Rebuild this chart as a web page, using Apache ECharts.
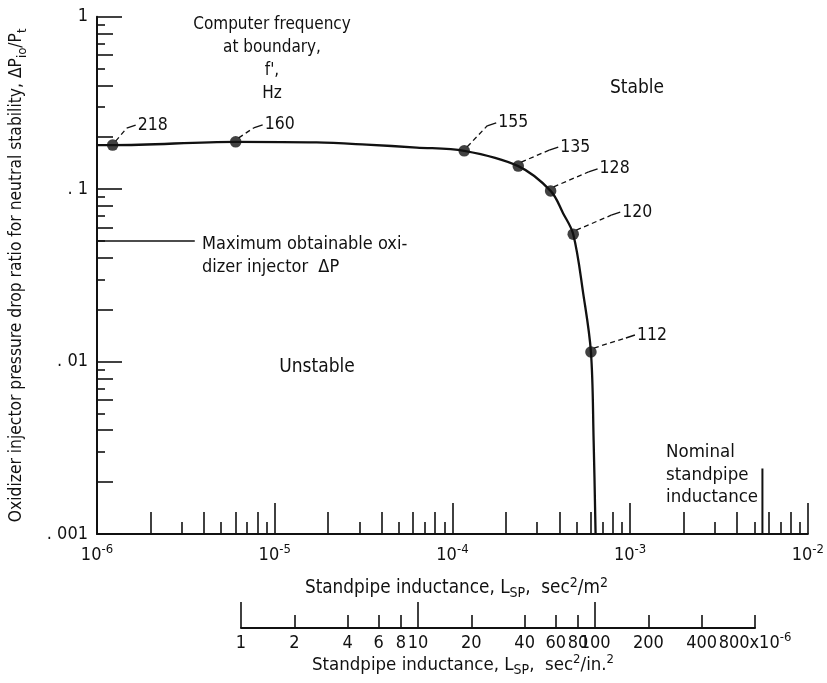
<!DOCTYPE html>
<html>
<head>
<meta charset="utf-8">
<title>Neutral stability boundary</title>
<script src="https://cdn.jsdelivr.net/npm/echarts@6/dist/echarts.min.js"></script>
<style>
  html, body { margin: 0; padding: 0; background: #fff; }
  #chart { width: 827px; height: 683px; }
</style>
</head>
<body>
<div id="chart"></div>
<script>
// Computed neutral-stability points: standpipe inductance (sec^2/m^2),
// injector pressure-drop ratio, and boundary frequency f' (Hz)
const inductance = [1.225e-6, 6.03e-6, 1.165e-4, 2.346e-4, 3.568e-4, 4.783e-4, 6.016e-4];
const pressureRatio = [0.180, 0.188, 0.1668, 0.136, 0.0977, 0.0548, 0.01136];
const frequencyHz = [218, 160, 155, 135, 128, 120, 112];

// Faired boundary curve separating stable and unstable regions
const curveInductance = [1e-6, 1.225e-6, 6.03e-6, 1.72e-5, 3.29e-5, 6.29e-5, 1.165e-4, 2.346e-4, 3.568e-4, 4.2e-4, 4.783e-4, 5.445e-4, 6.016e-4, 6.23e-4, 6.39e-4];
const curveRatio = [0.180, 0.180, 0.188, 0.1866, 0.1812, 0.1743, 0.1668, 0.136, 0.0977, 0.0723, 0.0548, 0.0248, 0.01136, 0.00349, 0.001];

// Maximum obtainable oxidizer injector pressure drop
const maxDeltaPRatio = 0.05;
const maxDeltaPSpan = [1e-6, 3.55e-6];

// Nominal standpipe inductance marker
const nominalInductance = 5.55e-3;
const nominalSpan = [0.001, 0.0024];

// Tick positions
const xDecades = [1e-6, 1e-5, 1e-4, 1e-3, 1e-2];
const yDecades = [0.001, 0.01, 0.1, 1];
const evenMultipliers = [2, 4, 6, 8];
const oddMultipliers = [3, 5, 7, 9];
const inchMajor = [1, 10, 100];
const inchLabels = [1, 2, 4, 6, 8, 10, 20, 40, 60, 80, 100, 200, 400, 800];
const inchMinor = [2, 4, 6, 8, 20, 40, 60, 80, 200, 400, 800];

function withMultipliers(decades, mults) {
  const out = [];
  decades.slice(0, -1).forEach(d => mults.forEach(m => out.push(+(m * d).toPrecision(6))));
  return out;
}
const xEven = withMultipliers(xDecades, evenMultipliers);
const xOdd = withMultipliers(xDecades, oddMultipliers);
const yEven = withMultipliers(yDecades, evenMultipliers);
const yOdd = withMultipliers(yDecades, oddMultipliers);
const inchScale = 1e-6;

const FONT = "'Liberation Sans Narrow','DejaVu Sans Condensed','Liberation Sans',sans-serif";
const INK = '#111';
const makeRich = size => ({
  b: { fontFamily: FONT, fontSize: size, color: INK, lineHeight: 24 },
  sup: { fontFamily: FONT, fontSize: Math.round(size * 0.72), color: INK, lineHeight: 12, verticalAlign: 'top' },
  sub: { fontFamily: FONT, fontSize: Math.round(size * 0.76), color: INK, lineHeight: 12, verticalAlign: 'bottom' }
});

// Pixel offsets from each point to its frequency label
const labelOffsets = [[25, -20], [29, -17], [34, -28], [42, -19], [49, -22], [49, -22], [46, -17]];

function tickAxis(gridIndex, min, max, values, len, position, extra) {
  return Object.assign({
    type: 'log', logBase: 10, gridIndex, min, max, position, offset: 0,
    axisLine: { show: false },
    axisTick: { show: true, inside: true, length: len, customValues: values, lineStyle: { color: INK, width: 1.6 } },
    axisLabel: { show: false },
    splitLine: { show: false }
  }, extra || {});
}

const chart = echarts.init(document.getElementById('chart'), null, { renderer: 'canvas' });

const option = {
  backgroundColor: '#fff',
  animation: false,
  grid: [
    { left: 97, right: 19, top: 16.7, bottom: 149 },
    { left: 241, right: 72, top: 600, height: 28 }
  ],
  xAxis: [
    tickAxis(0, 1e-6, 1e-2, xDecades, 31, 'bottom', {
      axisLine: { show: true, lineStyle: { color: INK, width: 2 } },
      axisLabel: {
        show: true, customValues: xDecades, margin: 9, rich: makeRich(18),
        formatter: v => '{b|10}{sup|' + Math.round(Math.log10(v)) + '}'
      },
      name: '{b|Standpipe inductance, L}{sub|SP}{b|,  sec}{sup|2}{b|/m}{sup|2}',
      nameLocation: 'middle', nameGap: 42,
      nameTextStyle: { rich: makeRich(18.8), padding: [0, 0, 0, 8] }
    }),
    tickAxis(0, 1e-6, 1e-2, xEven, 22, 'bottom'),
    tickAxis(0, 1e-6, 1e-2, xOdd, 12, 'bottom'),
    tickAxis(1, inchLabels[0] * inchScale, inchLabels[inchLabels.length - 1] * inchScale,
      inchMajor.map(v => v * inchScale), 26, 'bottom', {
      axisLine: { show: true, lineStyle: { color: INK, width: 2 } },
      axisLabel: {
        show: true, customValues: inchLabels.map(v => +(v * inchScale).toPrecision(6)), margin: 3,
        rich: makeRich(18),
        formatter: v => {
          const n = Math.round(v / inchScale);
          return n === 800 ? '{b|800x10}{sup|-6}' : '{b|' + n + '}';
        }
      },
      name: '{b|Standpipe inductance, L}{sub|SP}{b|,  sec}{sup|2}{b|/in.}{sup|2}',
      nameLocation: 'middle', nameGap: 24,
      nameTextStyle: { rich: makeRich(18.5), padding: [0, 70, 0, 0] }
    }),
    tickAxis(1, inchLabels[0] * inchScale, inchLabels[inchLabels.length - 1] * inchScale,
      inchMinor.map(v => +(v * inchScale).toPrecision(6)), 13, 'bottom')
  ],
  yAxis: [
    tickAxis(0, 0.001, 1, yDecades, 25, 'left', {
      axisLine: { show: true, lineStyle: { color: INK, width: 2 } },
      axisLabel: {
        show: true, customValues: yDecades, margin: 9,
        fontFamily: FONT, fontSize: 18, color: INK,
        formatter: v => v >= 1 ? '1' : '. ' + v.toFixed(Math.round(-Math.log10(v))).split('.')[1]
      },
      name: '{b|Oxidizer injector pressure drop ratio for neutral stability, \u0394P}{sub|io}{b|/P}{sub|t}',
      nameLocation: 'middle', nameRotate: 90, nameGap: 68,
      nameTextStyle: { rich: makeRich(17.3), padding: [0, 0, 0, 0] }
    }),
    tickAxis(0, 0.001, 1, yEven, 16, 'left'),
    tickAxis(0, 0.001, 1, yOdd, 8, 'left'),
    { type: 'value', gridIndex: 1, show: false }
  ],
  series: [
    {
      type: 'line', name: 'boundary', xAxisIndex: 0, yAxisIndex: 0,
      data: curveInductance.map((x, i) => [x, curveRatio[i]]),
      smooth: 0.35, symbol: 'none',
      lineStyle: { color: INK, width: 2.3 }, z: 3
    },
    {
      type: 'line', name: 'max ΔP', xAxisIndex: 0, yAxisIndex: 0,
      data: maxDeltaPSpan.map(x => [x, maxDeltaPRatio]),
      symbol: 'none', lineStyle: { color: INK, width: 1.5 }
    },
    {
      type: 'line', name: 'nominal', xAxisIndex: 0, yAxisIndex: 0,
      data: nominalSpan.map(y => [nominalInductance, y]),
      symbol: 'none', lineStyle: { color: INK, width: 2 }
    },
    {
      type: 'scatter', name: 'points', xAxisIndex: 0, yAxisIndex: 0,
      data: inductance.map((x, i) => [x, pressureRatio[i]]),
      symbol: 'circle', symbolSize: 11.5, itemStyle: { color: INK }, z: 4
    },
    {
      type: 'custom', name: 'frequency labels', xAxisIndex: 0, yAxisIndex: 0,
      data: inductance.map((x, i) => [x, pressureRatio[i], frequencyHz[i]]),
      renderItem(params, api) {
        const i = params.dataIndex;
        const p = api.coord([api.value(0), api.value(1)]);
        const tx = p[0] + labelOffsets[i][0];
        const ty = p[1] + labelOffsets[i][1];
        const bx = tx - 11, by = ty + 3;
        return {
          type: 'group',
          children: [
            { type: 'polyline', shape: { points: [[p[0] + 3, p[1] - 4], [bx, by]] },
              style: { stroke: INK, lineWidth: 1.3, lineDash: [5, 3.5], fill: null } },
            { type: 'line', shape: { x1: bx, y1: by, x2: tx - 2, y2: ty },
              style: { stroke: INK, lineWidth: 1.4 } },
            { type: 'text', x: tx, y: ty,
              style: { text: String(api.value(2)), fontFamily: FONT, fontSize: 17.5, fill: INK,
                       align: 'left', verticalAlign: 'middle' } }
          ]
        };
      },
      z: 5
    }
  ],
  graphic: [
    { type: 'text', x: 272, y: 13,
      style: { text: "Computer frequency\nat boundary,\nf',\nHz", fontFamily: FONT, fontSize: 17, fill: INK,
               align: 'center', verticalAlign: 'top', lineHeight: 23 } },
    { type: 'text', x: 637, y: 88,
      style: { text: 'Stable', fontFamily: FONT, fontSize: 19, fill: INK, align: 'center', verticalAlign: 'middle' } },
    { type: 'text', x: 317, y: 367,
      style: { text: 'Unstable', fontFamily: FONT, fontSize: 19, fill: INK, align: 'center', verticalAlign: 'middle' } },
    { type: 'text', x: 202, y: 233,
      style: { text: 'Maximum obtainable oxi-\ndizer injector  \u0394P', fontFamily: FONT, fontSize: 18, fill: INK,
               align: 'left', verticalAlign: 'top', lineHeight: 23 } },
    { type: 'text', x: 666, y: 441,
      style: { text: 'Nominal\nstandpipe\ninductance', fontFamily: FONT, fontSize: 18.5, fill: INK,
               align: 'left', verticalAlign: 'top', lineHeight: 22.5 } }
  ]
};

chart.setOption(option);
</script>
</body>
</html>
